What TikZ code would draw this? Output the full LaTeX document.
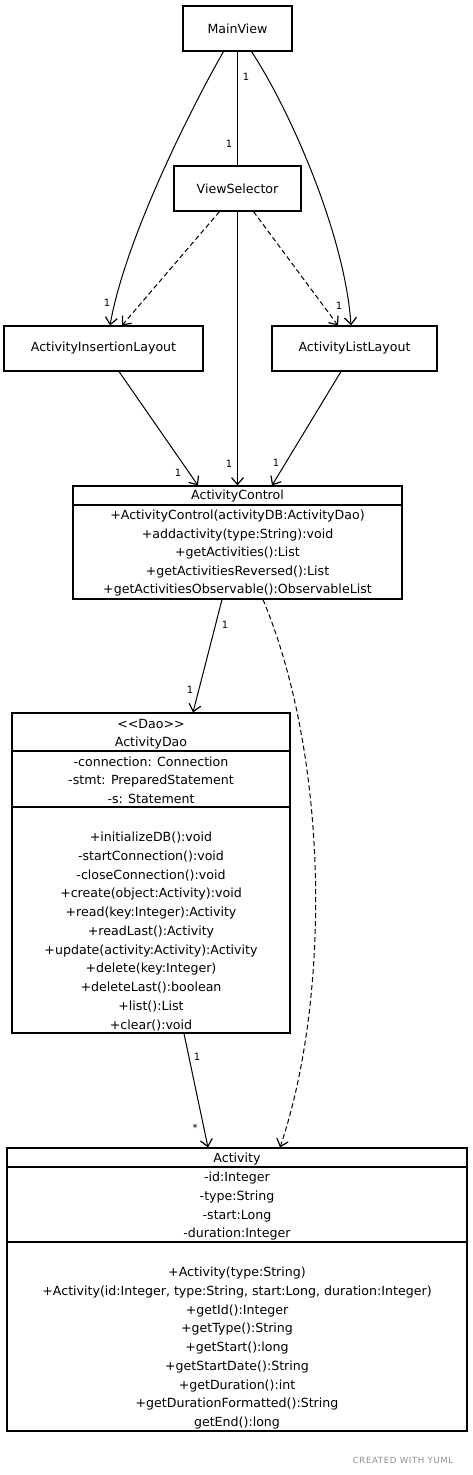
\documentclass[tikz,border=0pt]{standalone}
\usepackage{fontspec}
\setmainfont{DejaVu Sans}
\usetikzlibrary{arrows.meta}
\begin{document}
\begin{tikzpicture}[x=1pt,y=-1pt,
  box/.style={draw, line width=1.1pt, inner sep=0pt, font=\fontsize{12.6}{14}\selectfont},
  txt/.style={inner sep=0pt, font=\fontsize{12.6}{14}\selectfont, anchor=center},
  mult/.style={inner sep=0pt, font=\fontsize{10}{11}\selectfont},
  assoc/.style={line width=1pt, -{Straight Barb[length=7pt,width=12pt,line width=1.2pt]}},
  dep/.style={assoc, dash pattern=on 5pt off 3pt},
  sep/.style={line width=1.1pt}]
\useasboundingbox (0,0) rectangle (473,1475);

% simple boxes
\node[box, minimum width=109pt, minimum height=45pt] (mainview) at (237.5,28.5) {MainView};
\node[box, minimum width=127pt, minimum height=45pt] (viewsel) at (237.5,188.5) {ViewSelector};
\node[box, minimum width=199pt, minimum height=45pt] (ail) at (103.5,348.5) {ActivityInsertionLayout};
\node[box, minimum width=165pt, minimum height=45pt] (all) at (354.5,348.5) {ActivityListLayout};

% ActivityControl
\node[box, minimum width=329pt, minimum height=113pt] (ac) at (237.5,542.5) {};
\draw[sep] (ac.west |- 0,505) -- (ac.east |- 0,505);
\node[txt] (actitle) at (237.5,496) {ActivityControl};
\node[txt] (acm1) at (237.5,516) {+ActivityControl(activityDB:ActivityDao)};
\node[txt] (acm2) at (237.5,535) {+addactivity(type:String):void};
\node[txt] (acm3) at (237.5,553) {+getActivities():List};
\node[txt] (acm4) at (237.5,572) {+getActivitiesReversed():List};
\node[txt] (acm5) at (237.5,590) {+getActivitiesObservable():ObservableList};

% ActivityDao
\node[box, minimum width=278pt, minimum height=320pt] (dao) at (151,873) {};
\draw[sep] (dao.west |- 0,751) -- (dao.east |- 0,751);
\draw[sep] (dao.west |- 0,807) -- (dao.east |- 0,807);
\node[txt] (daost) at (151,724) {<{}<Dao>{}>};
\node[txt] (daotitle) at (151,743) {ActivityDao};
\node[txt] (daof1) at (151,762) {-connection: Connection};
\node[txt] (daof2) at (151,781) {-stmt: PreparedStatement};
\node[txt] (daof3) at (151,799) {-s: Statement};
\node[txt] (daom1) at (151,838) {+initializeDB():void};
\node[txt] (daom2) at (151,857) {-startConnection():void};
\node[txt] (daom3) at (151,876) {-closeConnection():void};
\node[txt] (daom4) at (151,894) {+create(object:Activity):void};
\node[txt] (daom5) at (151,913) {+read(key:Integer):Activity};
\node[txt] (daom6) at (151,932) {+readLast():Activity};
\node[txt] (daom7) at (151,951) {+update(activity:Activity):Activity};
\node[txt] (daom8) at (151,969) {+delete(key:Integer)};
\node[txt] (daom9) at (151,988) {+deleteLast():boolean};
\node[txt] (daom10) at (151,1007) {+list():List};
\node[txt] (daom11) at (151,1026) {+clear():void};

% Activity
\node[box, minimum width=460pt, minimum height=283pt] (act) at (237,1289.5) {};
\draw[sep] (act.west |- 0,1167) -- (act.east |- 0,1167);
\draw[sep] (act.west |- 0,1242) -- (act.east |- 0,1242);
\node[txt] (acttitle) at (237,1159) {Activity};
\node[txt] (actf1) at (237,1178) {-id:Integer};
\node[txt] (actf2) at (237,1197) {-type:String};
\node[txt] (actf3) at (237,1216) {-start:Long};
\node[txt] (actf4) at (237,1234) {-duration:Integer};
\node[txt] (actm1) at (237,1273) {+Activity(type:String)};
\node[txt] (actm2) at (237,1292) {+Activity(id:Integer, type:String, start:Long, duration:Integer)};
\node[txt] (actm3) at (237,1311) {+getId():Integer};
\node[txt] (actm4) at (237,1329) {+getType():String};
\node[txt] (actm5) at (237,1348) {+getStart():long};
\node[txt] (actm6) at (237,1367) {+getStartDate():String};
\node[txt] (actm7) at (237,1386) {+getDuration():int};
\node[txt] (actm8) at (237,1404) {+getDurationFormatted():String};
\node[txt] (actm9) at (237,1423) {getEnd():long};

% connectors
\draw[line width=1pt] (mainview.south) -- (viewsel.north);
\node[mult] (m1) at (246,77) {1};
\node[mult] (m2) at (229,144) {1};

\draw[assoc] ([xshift=-14pt]mainview.south) .. controls (190,110) and (125,240) .. ([xshift=6.5pt]ail.north);
\node[mult] (m3) at (107,303) {1};
\draw[assoc] ([xshift=14pt]mainview.south) .. controls (290,110) and (345,235) .. ([xshift=-3.5pt]all.north);
\node[mult] (m4) at (339,306) {1};

\draw[dep] ([xshift=-18pt]viewsel.south) -- ([xshift=18.5pt]ail.north);
\draw[dep] ([xshift=16pt]viewsel.south) -- ([xshift=-16.5pt]all.north);

\draw[assoc] (viewsel.south) -- (ac.north);
\node[mult] (m5) at (229,464) {1};
\draw[assoc] ([xshift=15.5pt]ail.south) -- ([xshift=-39.5pt]ac.north);
\node[mult] (m6) at (178,473) {1};
\draw[assoc] ([xshift=-13.5pt]all.south) -- ([xshift=34.5pt]ac.north);
\node[mult] (m7) at (276,463) {1};

\draw[assoc] ([xshift=-15.5pt]ac.south) -- ([xshift=42pt]dao.north);
\node[mult] (m8) at (225,625) {1};
\node[mult] (m9) at (190,690) {1};

\draw[dep] ([xshift=25.5pt]ac.south) .. controls (330,760) and (330,1000) .. ([xshift=43pt]act.north);

\draw[assoc] ([xshift=33pt]dao.south) -- ([xshift=-29pt]act.north);
\node[mult] (m10) at (197,1057) {1};
\node[mult] (m11) at (195,1128) {*};

\node[inner sep=0pt, text=black!45, font=\fontsize{8.5}{9}\selectfont\addfontfeature{LetterSpace=8}] (wm) at (403,1460) {CREATED WITH YUML};
\end{tikzpicture}
\end{document}
